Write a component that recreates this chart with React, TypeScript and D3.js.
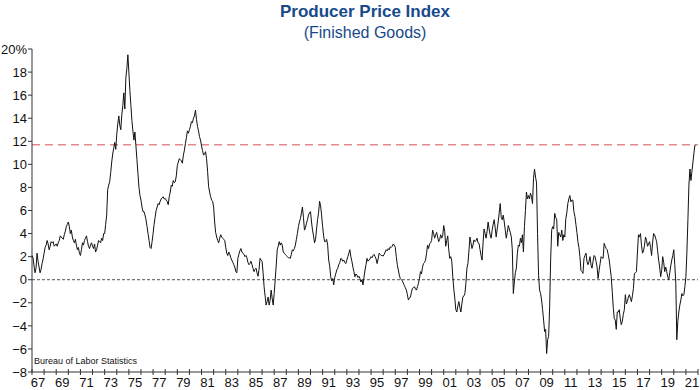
import React from 'react';
import * as d3 from 'd3';

// PPI finished goods, year-over-year % change, monthly from Jan 1967 (one row per year)
const startYear = 1967;
const ppiYoY: number[] = [
  2.1, 1.9, 1.2, 0.6, 1.0, 2.3, 1.6, 1.1, 0.6, 0.9, 1.4, 1.8, // 1967
  2.3, 2.8, 3.0, 3.4, 3.1, 2.6, 2.9, 3.3, 3.2, 3.3, 2.9, 3.0, // 1968
  3.1, 2.9, 3.2, 3.4, 3.8, 3.7, 3.6, 3.5, 3.9, 4.2, 4.6, 4.8, // 1969
  5.0, 4.6, 4.0, 4.3, 3.7, 3.4, 3.2, 3.5, 3.0, 2.6, 2.8, 2.3, // 1970
  2.1, 2.6, 3.2, 3.0, 3.4, 3.6, 3.8, 3.3, 2.9, 2.7, 3.0, 3.2, // 1971
  2.9, 2.7, 3.1, 2.4, 2.6, 3.0, 3.4, 3.3, 3.2, 3.6, 3.4, 4.0, // 1972
  4.0, 4.8, 5.6, 7.8, 8.2, 8.5, 9.3, 10.2, 10.9, 11.4, 11.9, 11.3, // 1973
  12.6, 13.5, 14.2, 13.4, 13.0, 14.3, 15.1, 16.2, 14.8, 17.5, 18.3, 19.5, // 1974
  18.0, 16.4, 15.1, 13.8, 12.9, 12.1, 12.8, 11.6, 10.4, 9.2, 8.0, 7.3, // 1975
  6.9, 6.3, 5.9, 5.9, 5.6, 5.2, 4.6, 4.0, 3.4, 2.8, 2.7, 3.3, // 1976
  4.0, 4.8, 5.4, 6.0, 6.3, 6.6, 6.5, 6.8, 7.0, 7.1, 7.2, 7.0, // 1977
  7.05, 6.9, 6.8, 6.5, 7.2, 7.6, 8.2, 8.1, 8.6, 8.4, 8.5, 9.0, // 1978
  9.9, 10.2, 10.5, 10.4, 10.3, 10.1, 10.8, 11.2, 11.8, 12.3, 12.9, 12.7, // 1979
  13.0, 13.3, 13.7, 13.6, 14.0, 14.2, 14.7, 13.9, 13.3, 12.9, 12.4, 12.1, // 1980
  11.6, 11.2, 10.8, 10.9, 11.1, 10.5, 9.4, 8.1, 7.6, 7.2, 6.9, 6.8, // 1981
  6.3, 5.0, 4.1, 3.7, 3.4, 3.2, 3.6, 3.9, 3.7, 3.6, 3.5, 3.4, // 1982
  2.8, 2.3, 2.1, 2.4, 2.2, 1.9, 1.7, 1.5, 1.3, 1.1, 0.7, 0.6, // 1983
  1.85, 2.2, 2.5, 2.7, 2.4, 2.3, 2.2, 2.0, 2.1, 1.9, 1.5, 1.3, // 1984
  1.4, 1.6, 1.3, 1.0, 0.7, 0.9, 1.0, 0.6, 0.3, 0.9, 1.85, 1.7, // 1985
  1.6, 0.6, -0.6, -1.4, -2.2, -1.9, -1.5, -2.2, -1.8, -0.9, -1.6, -2.2, // 1986
  -1.2, 0.0, 1.2, 2.6, 2.9, 3.3, 3.0, 3.2, 3.0, 2.4, 2.3, 2.2, // 1987
  2.1, 2.0, 1.9, 1.9, 1.85, 2.2, 2.6, 2.5, 2.7, 3.0, 3.5, 4.0, // 1988
  4.6, 5.0, 5.3, 5.8, 6.3, 5.4, 4.3, 4.5, 4.9, 5.2, 5.6, 5.8, // 1989
  5.9, 5.0, 4.3, 3.8, 3.2, 3.5, 4.4, 5.2, 5.8, 6.8, 6.4, 5.6, // 1990
  4.6, 3.8, 3.3, 3.3, 3.5, 3.0, 1.7, 1.2, 0.26, -0.1, 0.1, -0.45, // 1991
  0.2, 0.5, 0.84, 1.0, 1.3, 1.5, 1.85, 1.8, 1.6, 1.7, 1.5, 1.4, // 1992
  1.7, 2.0, 2.3, 2.6, 2.0, 1.6, 1.1, 0.7, 0.26, 0.5, 0.4, 0.2, // 1993
  0.3, 0.1, -0.2, 0.0, -0.45, 0.2, 0.84, 1.3, 1.85, 1.6, 1.7, 1.8, // 1994
  2.0, 1.9, 2.1, 2.2, 2.0, 1.8, 1.4, 1.8, 2.3, 2.2, 2.1, 2.1, // 1995
  2.05, 2.2, 2.4, 2.6, 2.5, 2.7, 2.6, 2.85, 2.8, 2.9, 3.1, 3.0, // 1996
  2.8, 2.0, 1.3, 0.84, 0.4, 0.1, 0.0, -0.1, -0.3, -0.5, -0.7, -0.9, // 1997
  -1.3, -1.76, -1.6, -1.5, -1.1, -0.75, -0.7, -0.6, -0.8, -0.9, -0.6, -0.3, // 1998
  0.12, 0.7, 0.5, 1.1, 1.4, 1.5, 1.7, 2.3, 3.0, 2.7, 3.1, 3.2, // 1999
  3.4, 4.3, 4.0, 3.6, 3.9, 4.1, 3.7, 3.3, 3.5, 3.9, 3.6, 3.8, // 2000
  4.7, 4.2, 2.9, 3.4, 3.8, 2.6, 1.85, 2.0, 1.6, 0.26, -0.8, -1.6, // 2001
  -2.6, -2.8, -2.3, -1.9, -2.4, -2.8, -2.1, -1.5, -1.4, -1.2, -0.3, 1.0, // 2002
  1.4, 2.5, 3.7, 3.2, 2.7, 3.0, 3.45, 3.3, 3.4, 3.6, 3.2, 3.15, // 2003
  2.6, 2.1, 1.7, 3.2, 4.4, 4.0, 3.6, 4.2, 5.0, 4.4, 3.9, 3.6, // 2004
  4.3, 4.8, 5.2, 4.5, 3.7, 4.4, 5.0, 5.8, 6.6, 5.4, 5.2, 5.6, // 2005
  5.0, 4.3, 3.6, 4.1, 4.7, 4.4, 4.1, 3.7, 2.6, -1.2, -0.2, 0.6, // 2006
  1.0, 2.3, 3.0, 2.9, 3.6, 3.2, 3.9, 2.4, 4.6, 6.0, 7.6, 7.0, // 2007
  7.3, 7.0, 7.5, 7.2, 6.6, 8.8, 9.6, 8.9, 8.4, 4.0, 0.4, -0.9, // 2008
  -1.2, -1.76, -2.6, -3.5, -4.5, -4.3, -6.4, -5.2, -4.9, -2.3, 1.8, 4.3, // 2009
  4.6, 4.4, 5.75, 5.4, 5.2, 2.9, 4.1, 3.9, 3.7, 4.3, 3.4, 3.9, // 2010
  3.7, 5.3, 5.8, 6.6, 7.0, 7.3, 6.75, 6.9, 6.9, 5.9, 5.5, 4.8, // 2011
  4.1, 3.3, 2.8, 2.0, 0.8, 0.7, 0.55, 1.85, 2.1, 2.3, 1.56, 1.3, // 2012
  1.6, 2.0, 1.27, 1.0, 1.6, 2.1, 2.0, 1.56, 1.1, 0.1, 0.8, 1.4, // 2013
  2.0, 1.9, 1.85, 3.15, 2.9, 2.7, 2.6, 2.2, 1.7, 1.0, 0.26, -1.0, // 2014
  -2.4, -3.35, -3.5, -4.3, -2.8, -2.8, -2.6, -3.4, -3.9, -3.6, -3.0, -2.6, // 2015
  -1.3, -2.1, -1.9, -1.5, -1.3, -1.6, -1.9, -1.4, -0.75, 0.55, 0.6, 0.7, // 2016
  2.4, 3.9, 3.7, 4.0, 3.0, 2.3, 2.5, 3.0, 3.7, 3.4, 2.9, 3.1, // 2017
  3.3, 2.8, 2.1, 3.2, 4.0, 3.9, 3.6, 3.3, 2.5, 1.7, 1.1, 0.26, // 2018
  0.8, 2.0, 1.5, 0.7, 1.1, 0.7, 0.26, 0.0, 0.6, 1.2, 1.7, 2.1, // 2019
  2.6, 1.3, -0.3, -5.2, -3.6, -2.8, -2.2, -1.76, -1.2, -1.4, -1.3, -0.6, // 2020
  0.26, 2.4, 5.2, 8.2, 9.6, 8.6, 9.4, 10.2, 11.0, 11.7, // 2021
];

const yTicks = [-8, -6, -4, -2, 0, 2, 4, 6, 8, 10, 12, 14, 16, 18, 20];
const xTickYears = d3.range(1967, 2023);
const xLabelYears = d3.range(1967, 2022, 2);

const W = 700;
const H = 390;
const margin = { left: 32, right: 2, top: 49, bottom: 18 };

const blue = '#174a8b';
const font = 'Liberation Sans, Arial, Helvetica, sans-serif';

export default function App() {
  const x = d3.scaleLinear().domain([1967, 2022]).range([margin.left, W - margin.right]);
  const y = d3.scaleLinear().domain([-8, 20]).range([H - margin.bottom, margin.top]);

  const points = ppiYoY.map((v, i) => [startYear + i / 12, v] as [number, number]);
  const line = d3.line<[number, number]>().x(d => x(d[0])).y(d => y(d[1]));
  const latest = ppiYoY[ppiYoY.length - 1];
  const fmt = (v: number) => (v < 0 ? '\u2212' + Math.abs(v) : String(v));

  const x0 = x(1967);
  const x1 = x(2022);
  const yb = y(-8);

  return (
    <div style={{ position: 'fixed', left: 0, top: 0 }}>
      <svg width={W} height={H} style={{ display: 'block', background: '#fff' }} fontFamily={font}>
        <text x={365} y={17} textAnchor="middle" fontSize={17} fontWeight="bold" fill={blue}>
          Producer Price Index
        </text>
        <text x={365} y={38} textAnchor="middle" fontSize={16} fill={blue}>
          (Finished Goods)
        </text>

        {/* reference lines */}
        <line x1={x0} x2={x1} y1={y(0)} y2={y(0)} stroke="#555" strokeDasharray="3,2" />
        <line x1={x0} x2={x1} y1={y(latest)} y2={y(latest)} stroke="#e08b8b" strokeWidth={1.3} strokeDasharray="8,5" />

        {/* y axis */}
        <line x1={x0} x2={x0} y1={y(20)} y2={yb} stroke="#333" />
        {yTicks.map(t => (
          <g key={t}>
            <line x1={x0 - 4} x2={x0} y1={y(t)} y2={y(t)} stroke="#333" />
            <text x={27} y={y(t)} dy="0.36em" textAnchor="end" fontSize={13} fill="#111">
              {t === 20 ? '20%' : fmt(t)}
            </text>
          </g>
        ))}

        {/* x axis */}
        <line x1={x0} x2={x1} y1={yb} y2={yb} stroke="#333" />
        {xTickYears.map(yr => (
          <line key={yr} x1={x(yr)} x2={x(yr)} y1={yb - 3} y2={yb + 3} stroke="#333" />
        ))}
        {xLabelYears.map(yr => (
          <text key={yr} x={x(yr + 0.5)} y={yb + 15} textAnchor="middle" fontSize={13} fill="#111">
            {String(yr).slice(2)}
          </text>
        ))}

        <path d={line(points) ?? ''} fill="none" stroke="#111" strokeWidth={1} strokeLinejoin="round" />

        <text x={34} y={yb - 8} fontSize={9} fill="#111">Bureau of Labor Statistics</text>
      </svg>
    </div>
  );
}
